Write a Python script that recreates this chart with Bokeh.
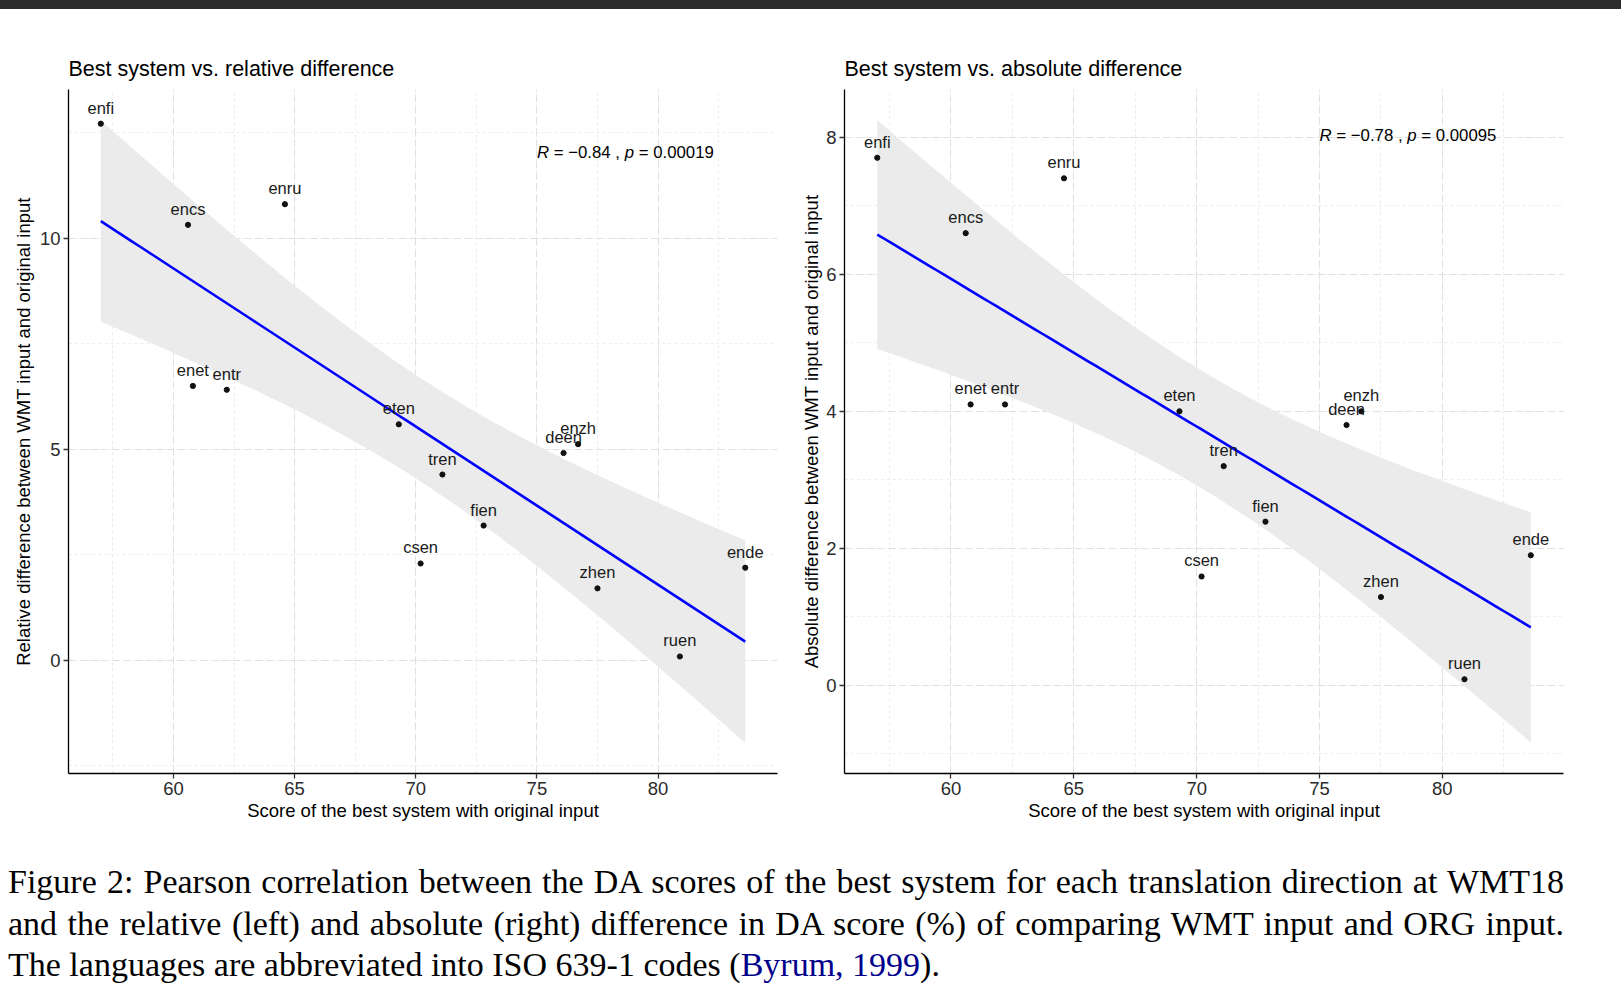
import numpy as np
from bokeh.plotting import figure
from bokeh.models import Range1d, SingleIntervalTicker, Div
from bokeh.layouts import column, row
from bokeh.embed import file_html
from bokeh.resources import INLINE
from bokeh.core.properties import value

# ---------------- data ----------------
langs = ["enfi", "encs", "enru", "enet", "entr", "eten", "tren",
         "fien", "csen", "deen", "enzh", "zhen", "ruen", "ende"]
score = [57.0, 60.6, 64.6, 60.8, 62.2, 69.3, 71.1,
         72.8, 70.2, 76.1, 76.7, 77.5, 80.9, 83.6]
rel_diff = [12.72, 10.32, 10.81, 6.50, 6.41, 5.59, 4.40,
            3.19, 2.29, 4.91, 5.12, 1.70, 0.085, 2.19]
abs_diff = [7.70, 6.60, 7.40, 4.10, 4.10, 4.00, 3.20,
            2.39, 1.59, 3.80, 4.00, 1.29, 0.09, 1.90]

rel_cor = ["\u22120.84", "0.00019"]
abs_cor = ["\u22120.78", "0.00095"]

titles = ["Best system vs. relative difference", "Best system vs. absolute difference"]
x_title = "Score of the best system with original input"
y_titles = ["Relative difference between WMT input and original input",
            "Absolute difference between WMT input and original input"]

T975_DF12 = 2.178813  # t quantile for 95% CI with n-2 = 12 df

SANS = "'Liberation Sans', Arial, sans-serif"


def lm_band(x, y, n=100):
    x = np.asarray(x, float)
    y = np.asarray(y, float)
    b1, b0 = np.polyfit(x, y, 1)
    res = y - (b0 + b1 * x)
    s = np.sqrt(np.sum(res ** 2) / (len(x) - 2))
    xs = np.linspace(x.min(), x.max(), n)
    fit = b0 + b1 * xs
    se = s * np.sqrt(1.0 / len(x) + (xs - x.mean()) ** 2 / np.sum((x - x.mean()) ** 2))
    return xs, fit, fit - T975_DF12 * se, fit + T975_DF12 * se


def make_panel(ydata, title, ytitle, yr, ytick, cor, cor_y, width, bl, br, ylab_standoff):
    p = figure(width=width, height=861, output_backend="svg", toolbar_location=None,
               x_range=Range1d(55.667, 84.93), y_range=Range1d(*yr),
               min_border_left=bl, min_border_right=br,
               min_border_top=89, min_border_bottom=88)
    p.outline_line_color = None
    p.background_fill_color = "white"
    p.border_fill_color = "white"

    p.title.text = title
    p.title.text_font = SANS
    p.title.text_font_size = "21.5px"
    p.title.text_font_style = "normal"
    p.title.text_color = "black"
    p.title.align = "left"
    p.title.offset = 0
    p.title.standoff = 17

    p.xaxis.ticker = SingleIntervalTicker(interval=5, num_minor_ticks=2)
    p.yaxis.ticker = SingleIntervalTicker(interval=ytick, num_minor_ticks=2)

    for ax in (p.xaxis, p.yaxis):
        ax.axis_line_color = "black"
        ax.axis_line_width = 1.3
        ax.major_tick_line_color = "#333333"
        ax.major_tick_line_width = 1.3
        ax.major_tick_out = 5
        ax.major_tick_in = 0
        ax.minor_tick_line_color = None
        ax.major_label_text_font = SANS
        ax.major_label_text_font_size = "18.5px"
        ax.major_label_text_color = "#2b2b2b"
        ax.axis_label_text_font = SANS
        ax.axis_label_text_font_size = "18.5px"
        ax.axis_label_text_font_style = "normal"
        ax.axis_label_text_color = "black"

    p.xaxis.axis_label = x_title
    p.yaxis.axis_label = ytitle
    p.xaxis.major_label_standoff = 3
    p.xaxis.axis_label_standoff = 2
    p.yaxis.major_label_standoff = 3
    p.yaxis.axis_label_standoff = ylab_standoff

    for g in (p.xgrid, p.ygrid):
        g.grid_line_color = "#e0e0e0"
        g.grid_line_width = 1.1
        g.grid_line_dash = "7 4"
        g.minor_grid_line_color = "#ececec"
        g.minor_grid_line_width = 1
        g.minor_grid_line_dash = "3 3"

    xs, fit, lo, hi = lm_band(score, ydata)
    p.varea(x=xs, y1=lo, y2=hi, fill_color="#ebebeb", fill_alpha=1.0)
    p.line(xs, fit, line_color="#0000ff", line_width=2.6)

    p.scatter(score, ydata, size=5.2, fill_color="#111111", line_color="#111111")
    p.text(score, ydata, text=langs, text_align="center", text_baseline="alphabetic",
           y_offset=-16, text_font=value(SANS), text_font_size="16.5px", text_color="#1a1a1a")

    # correlation label  "R = -0.84 , p = 0.00019"
    fs = "16.8px"
    p.text([75.0, 75.0], [cor_y, cor_y], text=["R", "p"], x_offset=[0, 87.8],
           text_align="left", text_baseline="middle", text_font=value(SANS),
           text_font_size=fs, text_font_style="italic", text_color="black")
    p.text([75.0, 75.0], [cor_y, cor_y],
           text=["= " + cor[0] + " ,", "= " + cor[1]], x_offset=[16.8, 101.8],
           text_align="left", text_baseline="middle", text_font=value(SANS),
           text_font_size=fs, text_color="black")
    return p


p1 = make_panel(rel_diff, titles[0], y_titles[0], (-2.69, 13.53), 5, rel_cor, 12.04,
                width=798, bl=68, br=21, ylab_standoff=3)
p2 = make_panel(abs_diff, titles[1], y_titles[1], (-1.285, 8.696), 2, abs_cor, 8.02,
                width=823, bl=45, br=58, ylab_standoff=1)

band = Div(text="", width=1621, height=9, margin=(0, 0, 0, 0),
           styles={"position": "fixed", "top": "0px", "left": "0px",
                   "background-color": "#2b2b2b", "z-index": "10"})

cap_style = ("font-family:'Liberation Serif','Times New Roman',serif;font-size:34px;"
             "line-height:41.5px;color:#000;width:1556px;")
just = "text-align:justify;text-align-last:justify;"
caption = Div(
    width=1600, height=125, margin=(0, 0, 0, 8),
    text=(f'<div style="{cap_style}">'
          f'<div style="{just}">Figure 2: Pearson correlation between the DA scores of the best system '
          'for each translation direction at WMT18</div>'
          f'<div style="{just}">and the relative (left) and absolute (right) difference in DA score (%) '
          'of comparing WMT input and ORG input.</div>'
          '<div>The languages are abbreviated into ISO 639-1 codes '
          '(<span style="color:#00008b">Byrum, 1999</span>).</div>'
          '</div>'))

layout = column(band, row(p1, p2), caption)
open("out.html", "w").write(file_html(layout, INLINE))
